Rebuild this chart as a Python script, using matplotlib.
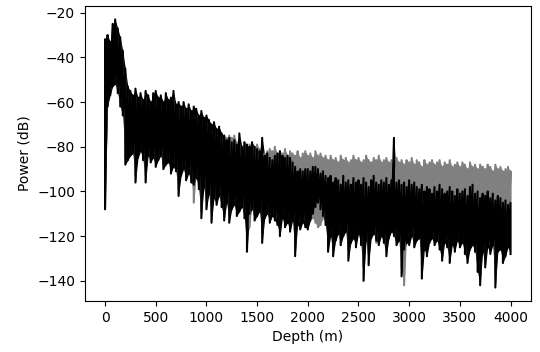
import numpy as np
import matplotlib
matplotlib.use("Agg")
import matplotlib.pyplot as plt

# ---------------- DATA ----------------
# depth samples every 25 m, upper / lower excursion of each trace
depth = np.arange(0, 4001, 25)

black_hi = [
    -32, -30, -33, -25, -23, -27, -31, -37, -45, -53,
    -55, -57, -54, -58, -56, -59, -55, -57, -60, -56,
    -55, -58, -57, -60, -56, -59, -58, -55, -61, -60,
    -62, -60, -63, -61, -64, -62, -63, -66, -64, -67,
    -66, -68, -70, -69, -72, -71, -74, -75, -77, -76,
    -78, -77, -79, -74, -80, -78, -79, -80, -78, -80,
    -81, -82, -76, -84, -83, -85, -86, -84, -83, -82,
    -84, -85, -84, -85, -87, -89, -91, -90, -91, -90,
    -90, -91, -89, -89, -90, -92, -91, -93, -94, -93,
    -96, -94, -95, -97, -93, -96, -95, -97, -94, -96,
    -95, -97, -94, -96, -98, -95, -93, -96, -97, -95,
    -96, -94, -97, -95, -76, -96, -95, -97, -96, -98,
    -95, -97, -96, -98, -99, -97, -100, -98, -99, -101,
    -98, -100, -97, -99, -101, -100, -98, -100, -102, -99,
    -101, -100, -99, -102, -98, -97, -101, -100, -103, -101,
    -102, -100, -103, -101, -104, -102, -103, -105, -104, -106,
    -105,
]

black_lo = [
    -108, -62, -57, -53, -52, -56, -62, -66, -88, -86,
    -84, -83, -96, -85, -82, -86, -96, -84, -87, -85,
    -89, -86, -84, -90, -88, -87, -92, -89, -91, -102,
    -93, -90, -95, -92, -96, -97, -94, -99, -112, -98,
    -108, -101, -114, -103, -106, -102, -107, -113, -105, -114,
    -108, -106, -111, -109, -107, -112, -127, -110, -108, -113,
    -111, -109, -123, -112, -110, -114, -111, -113, -115, -120,
    -112, -116, -114, -118, -113, -129, -115, -117, -114, -116,
    -117, -113, -110, -107, -105, -108, -111, -115, -127, -120,
    -129, -122, -119, -124, -120, -118, -131, -123, -121, -125,
    -119, -124, -140, -122, -133, -121, -119, -122, -124, -120,
    -123, -129, -121, -118, -120, -124, -122, -138, -126, -123,
    -124, -120, -125, -122, -121, -139, -126, -129, -123, -121,
    -124, -122, -126, -131, -123, -125, -132, -124, -127, -122,
    -125, -123, -128, -132, -126, -124, -127, -136, -142, -127,
    -134, -125, -128, -124, -143, -127, -126, -132, -129, -125,
    -128,
]

gray_hi = [
    -34, -33, -35, -28, -26, -30, -34, -40, -48, -56,
    -58, -60, -58, -61, -59, -62, -58, -60, -63, -60,
    -59, -61, -60, -63, -60, -62, -61, -59, -64, -63,
    -65, -63, -66, -64, -67, -66, -66, -69, -68, -70,
    -69, -71, -73, -72, -74, -75, -76, -75, -76, -75,
    -76, -75, -78, -79, -80, -78, -80, -79, -78, -80,
    -79, -81, -82, -83, -82, -81, -82, -80, -83, -82,
    -83, -81, -84, -82, -83, -84, -82, -85, -83, -82,
    -84, -83, -85, -82, -84, -83, -85, -84, -86, -84,
    -86, -85, -87, -84, -86, -85, -87, -86, -84, -86,
    -85, -87, -86, -84, -86, -87, -85, -86, -84, -87,
    -86, -85, -87, -86, -88, -85, -87, -86, -88, -86,
    -87, -85, -88, -86, -87, -89, -86, -88, -87, -86,
    -88, -87, -86, -89, -87, -88, -86, -89, -88, -87,
    -89, -87, -88, -90, -87, -89, -88, -90, -88, -89,
    -90, -88, -89, -91, -88, -90, -89, -91, -90, -89,
    -91,
]

gray_lo = [
    -105, -60, -55, -51, -50, -54, -60, -64, -85, -84,
    -82, -81, -93, -83, -80, -84, -93, -82, -85, -83,
    -87, -84, -82, -88, -86, -85, -90, -87, -89, -99,
    -91, -88, -93, -90, -94, -105, -92, -97, -109, -96,
    -104, -99, -110, -101, -103, -100, -104, -109, -103, -110,
    -105, -104, -108, -106, -105, -109, -120, -116, -106, -110,
    -108, -107, -118, -109, -108, -111, -109, -110, -112, -116,
    -109, -112, -111, -114, -110, -123, -112, -114, -111, -113,
    -114, -110, -112, -114, -116, -115, -112, -113, -122, -116,
    -124, -118, -116, -124, -117, -115, -126, -119, -118, -121,
    -116, -120, -134, -119, -128, -117, -116, -123, -120, -117,
    -119, -124, -118, -115, -117, -120, -119, -134, -142, -120,
    -120, -117, -121, -119, -118, -133, -122, -124, -120, -118,
    -120, -119, -122, -127, -120, -122, -128, -121, -123, -119,
    -121, -120, -124, -128, -122, -121, -123, -131, -137, -123,
    -129, -121, -124, -121, -138, -123, -122, -132, -125, -122,
    -104,
]


# ---------------- TRACES ----------------
def trace(ax, hi, lo, color):
    # solid band between the excursions, then the up/down trace on top
    ax.fill_between(depth, lo, hi, color=color, lw=0)
    x = np.repeat(depth, 2)
    y = np.empty(2 * len(depth))
    y[0::2] = hi
    y[1::2] = lo
    ax.plot(x, y, color=color, lw=1.5)


# ---------------- PLOT ----------------
fig = plt.figure(figsize=(5.4, 3.52), dpi=100)
ax = fig.add_axes([0.157, 0.145, 0.826, 0.838])

trace(ax, gray_hi, gray_lo, "0.5")
trace(ax, black_hi, black_lo, "k")

ax.set_xlabel("Depth (m)")
ax.set_ylabel("Power (dB)")

fig.savefig("out.png", dpi=100)
